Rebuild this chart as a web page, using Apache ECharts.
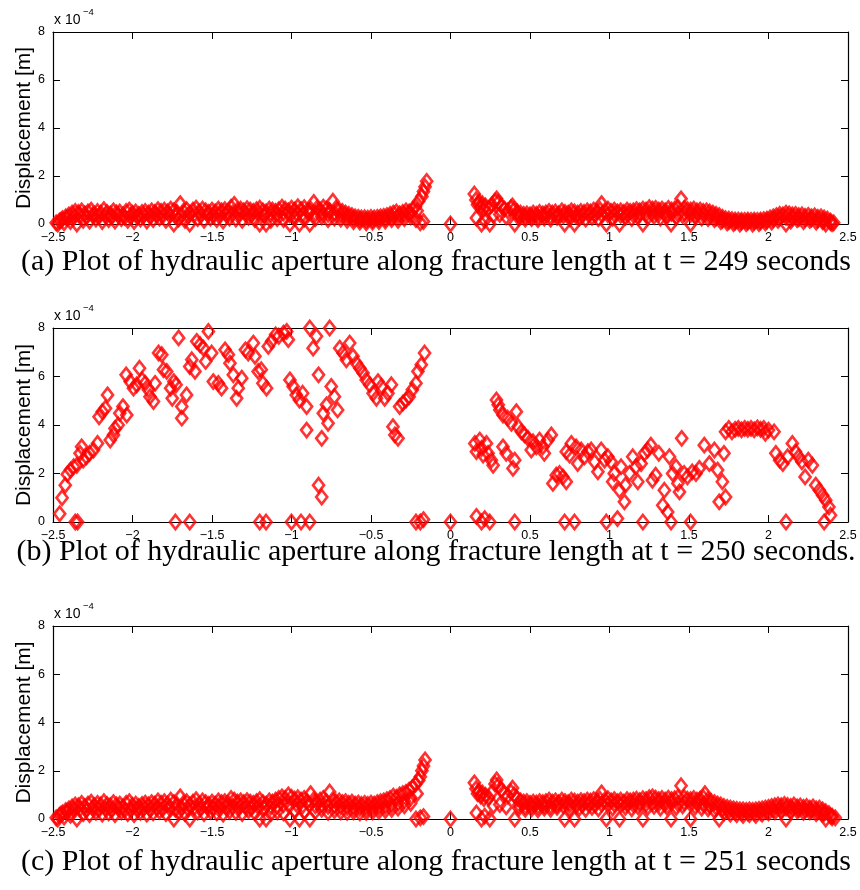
<!DOCTYPE html>
<html>
<head>
<meta charset="utf-8">
<script src="https://cdn.jsdelivr.net/npm/echarts@6/dist/echarts.min.js"></script>
<style>
html,body{margin:0;padding:0;background:#fff;}
#chart{width:860px;height:890px;}
</style>
</head>
<body>
<div id="chart"></div>
<script>
// ---- axis definitions ----
const X_MIN = -2.5, X_MAX = 2.5, X_STEP = 0.5;
const Y_MIN = 0, Y_MAX = 8, Y_STEP = 2;       // values in units of 1e-4 m
const Y_NAME = 'Displacement [m]';
const Y_EXP_BASE = 'x 10', Y_EXP_POWER = '\u22124';
const CAPTIONS = [
  '(a) Plot of hydraulic aperture along fracture length at t = 249 seconds',
  '(b) Plot of hydraulic aperture along fracture length at t = 250 seconds.',
  '(c) Plot of hydraulic aperture along fracture length at t = 251 seconds'
];

// ---- t = 249 s  [position along fracture, aperture x1e-4 m] ----
const t249_left = [[-2.48,0.05],[-2.46,0.12],[-2.44,0.22],[-2.42,0.30],[-2.40,0.38],[-2.38,0.45],[-2.36,0.52],[-2.34,0.48],[-2.32,0.55],[-2.30,0.42],[-2.28,0.50],[-2.26,0.58],[-2.24,0.40],[-2.22,0.52],[-2.20,0.45],[-2.18,0.60],[-2.16,0.48],[-2.14,0.42],[-2.12,0.55],[-2.10,0.46],[-2.08,0.50],[-2.06,0.38],[-2.04,0.52],[-2.02,0.58],[-2.00,0.44],[-1.98,0.50],[-1.96,0.40],[-1.94,0.48],[-1.92,0.52],[-1.90,0.45],[-1.88,0.55],[-1.86,0.48],[-1.84,0.60],[-1.82,0.52],[-1.80,0.58],[-1.78,0.50],[-1.76,0.62],[-1.74,0.55],[-1.72,0.48],[-1.70,0.85],[-1.68,0.52],[-1.66,0.60],[-1.64,0.45],[-1.62,0.58],[-1.60,0.66],[-1.58,0.50],[-1.56,0.62],[-1.54,0.55],[-1.52,0.48],[-1.50,0.58],[-1.48,0.50],[-1.46,0.62],[-1.44,0.55],[-1.42,0.60],[-1.40,0.52],[-1.38,0.70],[-1.36,0.82],[-1.34,0.58],[-1.32,0.62],[-1.30,0.55],[-1.28,0.64],[-1.26,0.58],[-1.24,0.52],[-1.22,0.60],[-1.20,0.66],[-1.18,0.55],[-1.16,0.50],[-1.14,0.62],[-1.12,0.58],[-1.10,0.52],[-1.08,0.60],[-1.06,0.70],[-1.04,0.62],[-1.02,0.55],[-1.00,0.66],[-0.98,0.58],[-0.96,0.72],[-0.94,0.60],[-0.92,0.68],[-0.90,0.55],[-0.88,0.62],[-0.86,0.90],[-0.84,0.66],[-0.82,0.58],[-0.80,0.70],[-0.78,0.62],[-0.76,0.55],[-0.74,0.95],[-0.72,0.66],[-0.70,0.58],[-0.68,0.52],[-0.66,0.45],[-0.64,0.40],[-0.62,0.35],[-0.60,0.30],[-0.58,0.28],[-0.56,0.25],[-0.54,0.26],[-0.52,0.24],[-0.50,0.27],[-0.48,0.25],[-0.46,0.28],[-0.44,0.30],[-0.42,0.32],[-0.40,0.35],[-0.38,0.40],[-0.36,0.45],[-0.34,0.50],[-0.32,0.42],[-0.30,0.48],[-0.28,0.55],[-0.26,0.50],[-0.24,0.60],[-0.22,0.72],[-0.20,0.95],[-0.18,1.15],[-0.17,1.35],[-0.16,1.55],[-0.15,1.78]];
const t249_leftMid = [[-2.45,0.15],[-2.41,0.25],[-2.37,0.30],[-2.33,0.35],[-2.29,0.30],[-2.25,0.38],[-2.21,0.32],[-2.17,0.35],[-2.13,0.30],[-2.09,0.36],[-2.05,0.28],[-2.01,0.34],[-1.97,0.30],[-1.93,0.35],[-1.89,0.32],[-1.85,0.38],[-1.81,0.34],[-1.77,0.40],[-1.73,0.32],[-1.69,0.38],[-1.65,0.33],[-1.61,0.40],[-1.57,0.36],[-1.53,0.42],[-1.49,0.35],[-1.45,0.40],[-1.41,0.38],[-1.37,0.45],[-1.33,0.40],[-1.29,0.42],[-1.25,0.38],[-1.21,0.44],[-1.17,0.36],[-1.13,0.42],[-1.09,0.40],[-1.05,0.45],[-1.01,0.38],[-0.97,0.44],[-0.93,0.40],[-0.89,0.46],[-0.85,0.42],[-0.81,0.48],[-0.77,0.40],[-0.73,0.44],[-0.69,0.38],[-0.65,0.30],[-0.61,0.22],[-0.57,0.18],[-0.53,0.16],[-0.49,0.17],[-0.45,0.20],[-0.41,0.22],[-0.37,0.28],[-0.33,0.32],[-0.29,0.38],[-0.25,0.45],[-0.21,0.55]];
const t249_leftLow = [[-2.47,0.0],[-2.43,0.05],[-2.39,0.10],[-2.35,0.0],[-2.31,0.15],[-2.27,0.12],[-2.23,0.20],[-2.19,0.10],[-2.15,0.18],[-2.11,0.12],[-2.07,0.22],[-2.03,0.15],[-1.99,0.10],[-1.95,0.20],[-1.91,0.12],[-1.87,0.18],[-1.83,0.25],[-1.79,0.15],[-1.74,0.0],[-1.71,0.20],[-1.67,0.15],[-1.64,0.0],[-1.59,0.22],[-1.55,0.15],[-1.51,0.25],[-1.47,0.18],[-1.43,0.12],[-1.39,0.25],[-1.35,0.20],[-1.31,0.15],[-1.27,0.28],[-1.23,0.18],[-1.20,0.0],[-1.16,0.0],[-1.13,0.15],[-1.09,0.22],[-1.05,0.18],[-1.01,0.0],[-0.98,0.25],[-0.95,0.0],[-0.92,0.20],[-0.885,0.0],[-0.85,0.22],[-0.81,0.30],[-0.77,0.18],[-0.73,0.25],[-0.69,0.20],[-0.65,0.15],[-0.61,0.10],[-0.57,0.08],[-0.53,0.05],[-0.49,0.08],[-0.45,0.10],[-0.41,0.12],[-0.37,0.18],[-0.33,0.15],[-0.29,0.22],[-0.25,0.30],[-0.217,0.18],[-0.19,0.05],[-0.17,0.10]];
const t249_right = [[0.00,0.0],[0.15,1.25],[0.16,1.00],[0.17,0.80],[0.18,0.92],[0.19,0.70],[0.20,0.85],[0.21,0.62],[0.22,0.75],[0.24,0.65],[0.26,0.80],[0.28,0.95],[0.29,1.05],[0.30,0.90],[0.32,0.75],[0.34,0.62],[0.36,0.55],[0.38,0.68],[0.39,0.75],[0.40,0.60],[0.42,0.50],[0.44,0.45],[0.46,0.40],[0.48,0.42],[0.50,0.38],[0.52,0.45],[0.54,0.40],[0.56,0.48],[0.58,0.42],[0.60,0.46],[0.62,0.52],[0.64,0.45],[0.66,0.50],[0.68,0.42],[0.70,0.55],[0.72,0.48],[0.74,0.45],[0.76,0.55],[0.78,0.50],[0.80,0.45],[0.82,0.52],[0.84,0.48],[0.86,0.55],[0.88,0.50],[0.90,0.58],[0.92,0.52],[0.94,0.60],[0.95,0.85],[0.97,0.55],[0.99,0.62],[1.01,0.52],[1.03,0.58],[1.05,0.50],[1.07,0.55],[1.09,0.48],[1.11,0.58],[1.13,0.52],[1.15,0.55],[1.17,0.60],[1.19,0.55],[1.21,0.62],[1.23,0.58],[1.25,0.68],[1.27,0.62],[1.29,0.65],[1.31,0.58],[1.33,0.62],[1.35,0.55],[1.37,0.65],[1.39,0.58],[1.41,0.62],[1.43,0.70],[1.45,1.05],[1.47,0.65],[1.49,0.60],[1.51,0.58],[1.53,0.62],[1.55,0.55],[1.57,0.58],[1.59,0.52],[1.61,0.55],[1.63,0.50],[1.65,0.45],[1.67,0.40],[1.69,0.35],[1.71,0.28],[1.73,0.22],[1.75,0.20],[1.77,0.18],[1.79,0.16],[1.81,0.16],[1.83,0.15],[1.85,0.15],[1.87,0.16],[1.89,0.15],[1.91,0.16],[1.93,0.15],[1.95,0.16],[1.97,0.18],[1.99,0.20],[2.01,0.25],[2.03,0.30],[2.05,0.35],[2.07,0.40],[2.09,0.38],[2.11,0.45],[2.13,0.42],[2.15,0.38],[2.17,0.40],[2.19,0.35],[2.21,0.38],[2.23,0.32],[2.25,0.36],[2.27,0.30],[2.29,0.34],[2.31,0.28],[2.33,0.30],[2.35,0.25],[2.37,0.20],[2.39,0.12],[2.41,0.05]];
const t249_rightMid = [[0.43,0.35],[0.47,0.30],[0.51,0.32],[0.55,0.30],[0.59,0.35],[0.63,0.32],[0.67,0.36],[0.71,0.34],[0.75,0.38],[0.79,0.32],[0.83,0.36],[0.87,0.38],[0.91,0.36],[0.95,0.40],[0.99,0.38],[1.03,0.40],[1.07,0.36],[1.11,0.40],[1.15,0.38],[1.19,0.42],[1.23,0.40],[1.27,0.44],[1.31,0.42],[1.35,0.40],[1.39,0.44],[1.43,0.42],[1.47,0.45],[1.51,0.40],[1.55,0.42],[1.59,0.38],[1.63,0.32],[1.67,0.25],[1.71,0.15],[1.75,0.10],[1.79,0.08],[1.83,0.08],[1.87,0.08],[1.91,0.08],[1.95,0.09],[1.99,0.12],[2.03,0.18],[2.07,0.25],[2.11,0.28],[2.15,0.25],[2.19,0.22],[2.23,0.20],[2.27,0.20],[2.31,0.16],[2.35,0.12],[2.39,0.06]];
const t249_rightLow = [[0.163,0.25],[0.195,0.0],[0.215,0.15],[0.247,0.0],[0.27,0.35],[0.31,0.40],[0.35,0.30],[0.404,0.0],[0.43,0.25],[0.47,0.20],[0.51,0.22],[0.55,0.18],[0.59,0.25],[0.63,0.20],[0.67,0.28],[0.718,0.0],[0.75,0.22],[0.78,0.0],[0.81,0.25],[0.85,0.20],[0.89,0.28],[0.93,0.22],[0.98,0.0],[1.02,0.25],[1.063,0.0],[1.10,0.28],[1.14,0.22],[1.18,0.30],[1.21,0.0],[1.24,0.28],[1.28,0.32],[1.32,0.25],[1.36,0.30],[1.387,0.0],[1.42,0.28],[1.46,0.35],[1.51,0.0],[1.54,0.30],[1.58,0.25],[1.62,0.22],[1.66,0.18],[1.70,0.10],[1.74,0.05],[1.78,0.02],[1.82,0.0],[1.86,0.02],[1.90,0.0],[1.94,0.02],[1.98,0.05],[2.02,0.08],[2.06,0.15],[2.11,0.0],[2.14,0.12],[2.18,0.18],[2.22,0.10],[2.26,0.15],[2.30,0.08],[2.34,0.10],[2.36,0.0],[2.40,0.02]];

// ---- t = 250 s ----
const t250_left = [[-2.458,0.34],[-2.443,1.0],[-2.423,1.52],[-2.41,1.97],[-2.39,2.14],[-2.37,2.28],[-2.35,2.34],[-2.33,2.83],[-2.32,3.1],[-2.31,2.55],[-2.29,2.69],[-2.27,2.83],[-2.245,2.97],[-2.22,3.24],[-2.36,0],[-2.345,0],[-2.21,4.34],[-2.19,4.55],[-2.17,4.69],[-2.157,5.24],[-2.14,3.38],[-2.12,3.59],[-2.11,3.86],[-2.09,4.0],[-2.08,4.48],[-2.06,4.76],[-2.036,4.41],[-2.04,6.07],[-2.015,5.79],[-1.994,5.52],[-1.973,5.66],[-1.956,6.34],[-1.94,5.86],[-1.92,5.72],[-1.9,5.45],[-1.89,5.17],[-1.868,4.97],[-1.858,5.72],[-1.836,6.97],[-1.816,6.9],[-1.805,6.28],[-1.785,6.21],[-1.76,5.52],[-1.75,5.10],[-1.74,5.79],[-1.726,5.66],[-1.71,7.59],[-1.73,0],[-1.69,4.76],[-1.69,4.28],[-1.66,5.24],[-1.64,0],[-1.64,6.41],[-1.627,6.69],[-1.607,6.21],[-1.596,7.45],[-1.575,7.31],[-1.554,7.17],[-1.54,6.62],[-1.523,7.86],[-1.502,6.97],[-1.492,5.79],[-1.46,5.72],[-1.44,5.52],[-1.418,7.10],[-1.397,6.9],[-1.387,6.55],[-1.366,6.07],[-1.345,5.10],[-1.335,5.52],[-1.313,5.93],[-1.29,7.1],[-1.272,6.97],[-1.24,7.38],[-1.23,6.83],[-1.21,6.21],[-1.19,6.28],[-1.18,5.72],[-1.157,5.52],[-1.2,0],[-1.16,0],[-1.146,7.24],[-1.125,7.45],[-1.1,7.72],[-1.08,7.66],[-1.05,7.79],[-1.03,7.86],[-1.02,7.52],[-1.01,5.86],[-1.0,0],[-0.99,5.59],[-0.97,5.24],[-0.95,5.03],[-0.94,0],[-0.93,5.31],[-0.905,4.76],[-0.905,3.79],[-0.885,8.0],[-0.885,0],[-0.864,7.17],[-0.843,7.66],[-0.83,6.07],[-0.83,1.52],[-0.81,1.03],[-0.81,3.45],[-0.8,4.48],[-0.78,4.83],[-0.77,4.07],[-0.76,8.0],[-0.75,5.59],[-0.73,5.17],[-0.71,4.62],[-0.697,7.17],[-0.676,6.97],[-0.655,6.69],[-0.634,7.38],[-0.613,6.83],[-0.592,6.55],[-0.57,6.34],[-0.55,6.14],[-0.53,5.86],[-0.508,5.66],[-0.487,5.31],[-0.466,5.10],[-0.456,5.79],[-0.435,5.59],[-0.414,5.10],[-0.393,5.31],[-0.372,5.66],[-0.362,3.93],[-0.35,3.59],[-0.33,3.45],[-0.32,4.76],[-0.3,4.9],[-0.28,5.03],[-0.26,5.17],[-0.24,5.45],[-0.217,5.72],[-0.205,6.21],[-0.184,6.48],[-0.163,6.97],[-0.217,0],[-0.19,0],[-0.17,0.1]];
const t250_right = [[0,0],[0.153,3.24],[0.163,2.9],[0.184,3.38],[0.195,3.03],[0.205,2.76],[0.226,3.24],[0.236,2.83],[0.257,2.55],[0.268,2.34],[0.163,0.23],[0.195,0],[0.215,0.14],[0.247,0],[0.289,5.03],[0.3,4.83],[0.31,4.62],[0.33,4.41],[0.33,3.1],[0.35,2.83],[0.36,4.28],[0.383,4.07],[0.393,2.21],[0.404,2.55],[0.414,4.55],[0.404,0],[0.425,3.93],[0.446,3.72],[0.466,3.59],[0.487,3.45],[0.508,2.97],[0.519,3.31],[0.54,3.1],[0.56,3.38],[0.58,3.1],[0.59,2.83],[0.613,3.38],[0.634,3.59],[0.644,1.59],[0.665,1.93],[0.686,2.0],[0.707,1.86],[0.728,1.66],[0.718,0],[0.728,2.9],[0.749,2.76],[0.76,3.24],[0.78,0],[0.79,3.1],[0.8,2.41],[0.822,2.97],[0.843,2.69],[0.864,2.9],[0.885,2.97],[0.906,2.48],[0.927,2.07],[0.948,2.97],[0.969,2.55],[0.98,0],[0.99,2.69],[1.01,2.48],[1.02,1.66],[1.03,2.0],[1.05,0.14],[1.063,1.31],[1.073,2.28],[1.094,0.83],[1.1,1.52],[1.126,2.0],[1.146,2.69],[1.167,2.28],[1.178,1.66],[1.199,2.41],[1.21,0],[1.22,2.83],[1.24,2.97],[1.26,3.17],[1.27,1.72],[1.29,1.93],[1.31,2.83],[1.335,0.69],[1.345,1.31],[1.366,0.41],[1.377,2.69],[1.387,0],[1.397,2.0],[1.418,2.28],[1.43,1.59],[1.44,1.24],[1.454,3.45],[1.47,2.0],[1.49,1.86],[1.51,0],[1.52,2.07],[1.544,2.0],[1.565,2.21],[1.596,3.17],[1.628,2.41],[1.66,2.97],[1.68,2.14],[1.69,0.83],[1.71,1.66],[1.72,2.83],[1.73,1.03],[1.73,3.72],[1.75,3.86],[1.77,3.72],[1.79,3.82],[1.81,3.86],[1.83,3.80],[1.85,3.86],[1.87,3.82],[1.89,3.86],[1.91,3.80],[1.93,3.88],[1.95,3.82],[1.97,3.86],[1.98,3.66],[2.0,3.79],[2.035,3.72],[2.046,2.83],[2.07,2.55],[2.09,2.41],[2.11,0],[2.12,2.69],[2.15,3.24],[2.17,2.9],[2.19,2.69],[2.21,2.48],[2.23,1.86],[2.25,2.55],[2.276,2.34],[2.297,1.52],[2.32,1.31],[2.34,1.1],[2.35,0],[2.36,0.9],[2.38,0.62],[2.39,0.28]];

// ---- t = 251 s ----
const t251_left = [[-2.48,0.05],[-2.46,0.15],[-2.44,0.25],[-2.42,0.35],[-2.40,0.42],[-2.38,0.50],[-2.36,0.58],[-2.34,0.55],[-2.32,0.65],[-2.30,0.52],[-2.28,0.62],[-2.26,0.70],[-2.24,0.55],[-2.22,0.65],[-2.20,0.58],[-2.18,0.72],[-2.16,0.60],[-2.14,0.55],[-2.12,0.68],[-2.10,0.58],[-2.08,0.62],[-2.06,0.50],[-2.04,0.65],[-2.02,0.72],[-2.00,0.56],[-1.98,0.62],[-1.96,0.52],[-1.94,0.60],[-1.92,0.66],[-1.90,0.58],[-1.88,0.68],[-1.86,0.62],[-1.84,0.75],[-1.82,0.65],[-1.80,0.72],[-1.78,0.62],[-1.76,0.78],[-1.74,0.68],[-1.72,0.60],[-1.70,0.92],[-1.68,0.65],[-1.66,0.72],[-1.64,0.58],[-1.62,0.70],[-1.60,0.80],[-1.58,0.62],[-1.56,0.75],[-1.54,0.68],[-1.52,0.60],[-1.50,0.70],[-1.48,0.62],[-1.46,0.75],[-1.44,0.68],[-1.42,0.72],[-1.40,0.65],[-1.38,0.85],[-1.36,0.78],[-1.34,0.70],[-1.32,0.75],[-1.30,0.68],[-1.28,0.76],[-1.26,0.70],[-1.24,0.65],[-1.22,0.72],[-1.20,0.80],[-1.18,0.68],[-1.16,0.62],[-1.14,0.75],[-1.12,0.70],[-1.10,0.78],[-1.08,0.85],[-1.06,0.92],[-1.04,0.85],[-1.02,1.00],[-1.00,0.90],[-0.98,0.82],[-0.96,0.88],[-0.94,0.78],[-0.92,0.85],[-0.90,0.72],[-0.88,1.05],[-0.86,0.80],[-0.84,0.70],[-0.82,0.78],[-0.80,0.85],[-0.78,0.72],[-0.76,1.12],[-0.74,0.80],[-0.72,0.70],[-0.70,0.75],[-0.68,0.68],[-0.66,0.72],[-0.64,0.65],[-0.62,0.70],[-0.60,0.62],[-0.58,0.66],[-0.56,0.60],[-0.54,0.65],[-0.52,0.60],[-0.50,0.66],[-0.48,0.62],[-0.46,0.68],[-0.44,0.72],[-0.42,0.75],[-0.40,0.80],[-0.38,0.85],[-0.36,0.95],[-0.34,0.90],[-0.32,1.00],[-0.30,1.05],[-0.28,1.10],[-0.26,1.20],[-0.24,1.30],[-0.22,1.45],[-0.20,1.60],[-0.19,1.75],[-0.18,2.00],[-0.17,2.20],[-0.16,2.45]];
const t251_leftMid = [[-2.45,0.20],[-2.41,0.30],[-2.37,0.38],[-2.33,0.42],[-2.29,0.38],[-2.25,0.45],[-2.21,0.40],[-2.17,0.44],[-2.13,0.38],[-2.09,0.45],[-2.05,0.36],[-2.01,0.42],[-1.97,0.38],[-1.93,0.44],[-1.89,0.40],[-1.85,0.46],[-1.81,0.42],[-1.77,0.48],[-1.73,0.40],[-1.69,0.46],[-1.65,0.42],[-1.61,0.48],[-1.57,0.44],[-1.53,0.50],[-1.49,0.44],[-1.45,0.48],[-1.41,0.46],[-1.37,0.52],[-1.33,0.48],[-1.29,0.50],[-1.25,0.46],[-1.21,0.52],[-1.17,0.45],[-1.13,0.50],[-1.09,0.55],[-1.05,0.60],[-1.01,0.58],[-0.97,0.62],[-0.93,0.55],[-0.89,0.60],[-0.85,0.55],[-0.81,0.60],[-0.77,0.52],[-0.73,0.55],[-0.69,0.50],[-0.65,0.48],[-0.61,0.45],[-0.57,0.44],[-0.53,0.42],[-0.49,0.44],[-0.45,0.48],[-0.41,0.52],[-0.37,0.58],[-0.33,0.65],[-0.29,0.75],[-0.25,0.88],[-0.21,1.05]];
const t251_leftLow = [[-2.47,0.0],[-2.43,0.08],[-2.39,0.15],[-2.35,0.0],[-2.31,0.22],[-2.27,0.18],[-2.23,0.28],[-2.19,0.20],[-2.15,0.25],[-2.11,0.18],[-2.07,0.30],[-2.03,0.22],[-1.99,0.18],[-1.95,0.28],[-1.91,0.20],[-1.87,0.25],[-1.83,0.32],[-1.79,0.22],[-1.74,0.0],[-1.71,0.28],[-1.67,0.22],[-1.64,0.0],[-1.59,0.30],[-1.55,0.22],[-1.51,0.32],[-1.47,0.25],[-1.43,0.20],[-1.39,0.32],[-1.35,0.28],[-1.31,0.22],[-1.27,0.35],[-1.23,0.25],[-1.20,0.0],[-1.16,0.0],[-1.13,0.22],[-1.09,0.30],[-1.05,0.25],[-1.01,0.0],[-0.98,0.35],[-0.95,0.0],[-0.92,0.30],[-0.885,0.0],[-0.85,0.32],[-0.81,0.40],[-0.77,0.28],[-0.73,0.35],[-0.69,0.30],[-0.65,0.28],[-0.61,0.30],[-0.57,0.25],[-0.53,0.28],[-0.49,0.30],[-0.45,0.32],[-0.41,0.35],[-0.37,0.40],[-0.33,0.45],[-0.29,0.55],[-0.25,0.65],[-0.217,0.0],[-0.19,0.05],[-0.17,0.10]];
const t251_right = [[0.00,0.0],[0.15,1.50],[0.16,1.25],[0.17,1.05],[0.18,1.15],[0.19,0.95],[0.20,1.08],[0.21,0.85],[0.22,0.98],[0.24,0.88],[0.26,1.10],[0.28,1.45],[0.29,1.62],[0.30,1.40],[0.32,1.20],[0.34,1.05],[0.36,0.95],[0.38,1.12],[0.39,1.28],[0.40,1.00],[0.42,0.85],[0.44,0.75],[0.46,0.70],[0.48,0.72],[0.50,0.65],[0.52,0.70],[0.54,0.66],[0.56,0.72],[0.58,0.68],[0.60,0.72],[0.62,0.78],[0.64,0.70],[0.66,0.75],[0.68,0.68],[0.70,0.78],[0.72,0.72],[0.74,0.68],[0.76,0.78],[0.78,0.74],[0.80,0.70],[0.82,0.76],[0.84,0.72],[0.86,0.78],[0.88,0.74],[0.90,0.80],[0.92,0.75],[0.94,0.82],[0.95,1.08],[0.97,0.78],[0.99,0.84],[1.01,0.75],[1.03,0.80],[1.05,0.72],[1.07,0.78],[1.09,0.70],[1.11,0.80],[1.13,0.75],[1.15,0.78],[1.17,0.82],[1.19,0.76],[1.21,0.84],[1.23,0.80],[1.25,0.88],[1.27,0.92],[1.29,0.86],[1.31,0.80],[1.33,0.85],[1.35,0.78],[1.37,0.86],[1.39,0.80],[1.41,0.84],[1.43,0.90],[1.45,1.38],[1.47,0.88],[1.49,0.82],[1.51,0.80],[1.53,0.85],[1.55,0.78],[1.57,0.82],[1.59,0.88],[1.60,1.05],[1.62,0.80],[1.64,0.72],[1.66,0.68],[1.68,0.62],[1.70,0.58],[1.72,0.52],[1.74,0.48],[1.76,0.45],[1.78,0.42],[1.80,0.40],[1.82,0.38],[1.84,0.38],[1.86,0.36],[1.88,0.38],[1.90,0.36],[1.92,0.38],[1.94,0.40],[1.96,0.42],[1.98,0.45],[2.00,0.48],[2.02,0.52],[2.04,0.55],[2.06,0.58],[2.08,0.55],[2.10,0.60],[2.12,0.56],[2.14,0.52],[2.16,0.58],[2.18,0.50],[2.20,0.54],[2.22,0.48],[2.24,0.52],[2.26,0.45],[2.28,0.50],[2.30,0.42],[2.32,0.45],[2.34,0.38],[2.36,0.30],[2.38,0.22],[2.40,0.12],[2.42,0.05]];
const t251_rightMid = [[0.43,0.58],[0.47,0.52],[0.51,0.55],[0.55,0.52],[0.59,0.56],[0.63,0.54],[0.67,0.58],[0.71,0.55],[0.75,0.60],[0.79,0.55],[0.83,0.58],[0.87,0.60],[0.91,0.58],[0.95,0.62],[0.99,0.60],[1.03,0.62],[1.07,0.58],[1.11,0.62],[1.15,0.60],[1.19,0.64],[1.23,0.62],[1.27,0.66],[1.31,0.64],[1.35,0.62],[1.39,0.66],[1.43,0.64],[1.47,0.68],[1.51,0.62],[1.55,0.64],[1.59,0.60],[1.63,0.55],[1.67,0.48],[1.71,0.40],[1.75,0.32],[1.79,0.28],[1.83,0.26],[1.87,0.26],[1.91,0.26],[1.95,0.28],[1.99,0.32],[2.03,0.38],[2.07,0.42],[2.11,0.45],[2.15,0.42],[2.19,0.38],[2.23,0.36],[2.27,0.34],[2.31,0.30],[2.35,0.24],[2.39,0.12]];
const t251_rightLow = [[0.163,0.25],[0.195,0.0],[0.215,0.12],[0.247,0.0],[0.27,0.55],[0.31,0.60],[0.35,0.50],[0.404,0.0],[0.43,0.45],[0.47,0.40],[0.51,0.42],[0.55,0.38],[0.59,0.45],[0.63,0.40],[0.67,0.48],[0.718,0.0],[0.75,0.42],[0.78,0.0],[0.81,0.45],[0.85,0.40],[0.89,0.48],[0.93,0.42],[0.98,0.0],[1.02,0.45],[1.063,0.0],[1.10,0.48],[1.14,0.42],[1.18,0.50],[1.21,0.0],[1.24,0.48],[1.28,0.52],[1.32,0.45],[1.36,0.50],[1.387,0.0],[1.42,0.48],[1.46,0.55],[1.51,0.0],[1.54,0.50],[1.58,0.45],[1.62,0.42],[1.66,0.35],[1.69,0.0],[1.72,0.25],[1.76,0.20],[1.80,0.18],[1.84,0.15],[1.88,0.18],[1.92,0.15],[1.96,0.20],[2.00,0.25],[2.04,0.30],[2.08,0.32],[2.11,0.0],[2.14,0.30],[2.18,0.35],[2.22,0.28],[2.26,0.30],[2.30,0.22],[2.34,0.20],[2.36,0.0],[2.40,0.05]];

const panelData = [
  [].concat(t249_leftLow, t249_leftMid, t249_left, t249_rightLow, t249_rightMid, t249_right),
  [].concat(t250_left, t250_right),
  [].concat(t251_leftLow, t251_leftMid, t251_left, t251_rightLow, t251_rightMid, t251_right)
];

// ---- layout ----
const LEFT = 53, WIDTH = 795;
const GRIDS = [{top: 32, height: 192}, {top: 328, height: 194}, {top: 626, height: 193}];
const CAPTION_Y = [262, 552, 862];
const SANS = 'Liberation Sans, Arial, Helvetica, sans-serif';
const SERIF = 'Liberation Serif, Times New Roman, serif';

const fmt = v => String(v).replace('-', '\u2212');

const grid = [], xAxis = [], yAxis = [], series = [], graphic = [];
GRIDS.forEach((g, i) => {
  grid.push({left: LEFT, width: WIDTH, top: g.top, height: g.height, containLabel: false});
  const axLine = {onZero: false, lineStyle: {color: '#000', width: 1.2}};
  const tick = {inside: true, length: 7, lineStyle: {color: '#000', width: 1}};
  xAxis.push({gridIndex: i, type: 'value', position: 'bottom', min: X_MIN, max: X_MAX, interval: X_STEP,
    axisLine: axLine, axisTick: tick, splitLine: {show: false},
    axisLabel: {color: '#000', fontSize: 12.5, fontFamily: SANS, margin: 7, formatter: fmt}});
  xAxis.push({gridIndex: i, type: 'value', position: 'top', min: X_MIN, max: X_MAX, interval: X_STEP,
    axisLine: axLine, axisTick: tick, splitLine: {show: false}, axisLabel: {show: false}});
  yAxis.push({gridIndex: i, type: 'value', position: 'left', min: Y_MIN, max: Y_MAX, interval: Y_STEP,
    name: Y_NAME, nameLocation: 'middle', nameGap: 18, nameMoveOverlap: false,
    nameTextStyle: {color: '#000', fontSize: 21, fontFamily: SANS},
    axisLine: axLine, axisTick: tick, splitLine: {show: false},
    axisLabel: {color: '#000', fontSize: 12.5, fontFamily: SANS, margin: 8}});
  yAxis.push({gridIndex: i, type: 'value', position: 'right', min: Y_MIN, max: Y_MAX, interval: Y_STEP,
    axisLine: axLine, axisTick: tick, splitLine: {show: false}, axisLabel: {show: false}});
  series.push({type: 'scatter', xAxisIndex: 2 * i, yAxisIndex: 2 * i, data: panelData[i],
    symbol: 'diamond', symbolSize: [11, 14],
    itemStyle: {color: 'rgba(255,255,255,0)', borderColor: '#ff0000', borderWidth: 2.7},
    emphasis: {disabled: true}, silent: true});
  graphic.push({type: 'text', left: LEFT + 1, top: g.top - 19,
    style: {text: Y_EXP_BASE, fontSize: 14, fontFamily: SANS, fill: '#000'}});
  graphic.push({type: 'text', left: LEFT + 30, top: g.top - 25,
    style: {text: Y_EXP_POWER, fontSize: 9.5, fontFamily: SANS, fill: '#000'}});
  graphic.push({type: 'text', x: 436, y: CAPTION_Y[i],
    style: {text: CAPTIONS[i], fontSize: 30, fontFamily: SERIF, fill: '#000', align: 'center', verticalAlign: 'middle'}});
});

const chart = echarts.init(document.getElementById('chart'), null, {renderer: 'canvas'});
chart.setOption({animation: false, backgroundColor: '#fff', grid, xAxis, yAxis, series, graphic});
</script>
</body>
</html>
